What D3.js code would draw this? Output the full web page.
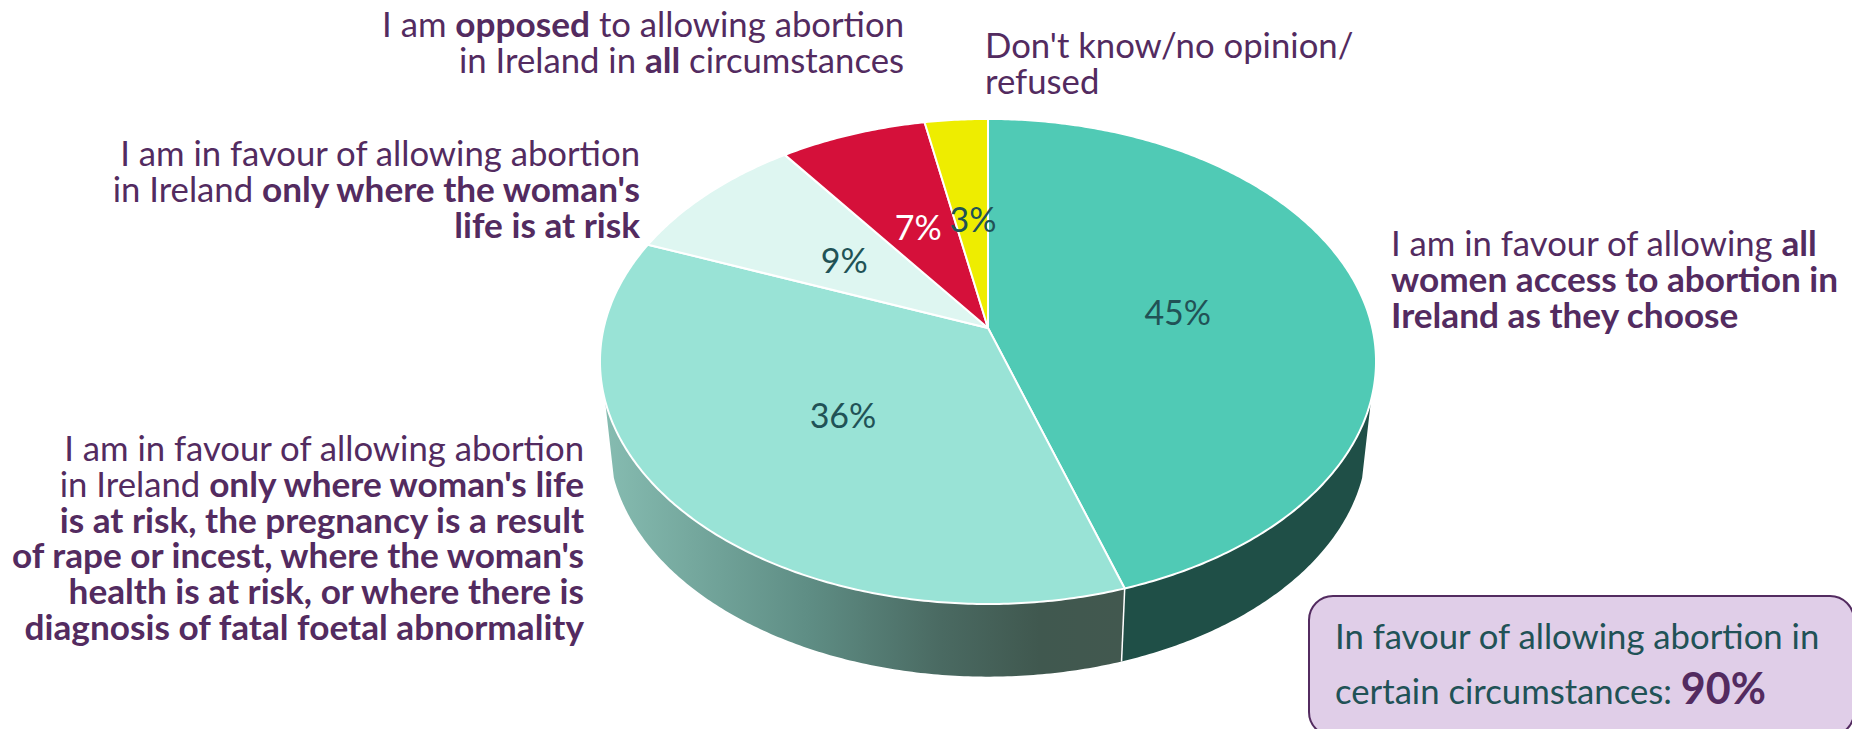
<!DOCTYPE html>
<html>
<head>
<meta charset="utf-8">
<script src="https://cdn.jsdelivr.net/npm/d3@7"></script>
<style>
  html, body { margin: 0; padding: 0; background: #fff; overflow: hidden; }
  text { font-family: Lato, "Open Sans", sans-serif; }
</style>
</head>
<body>
<svg id="chart" width="1852" height="729"></svg>
<script>
// answers, clockwise from 12 o'clock. ** marks the bold part of a label
var categories = ["All women", "Certain circumstances", "Life at risk", "Opposed", "Don't know"];
var values = [45, 36, 9, 7, 3];
var pctLabels = ["45%", "36%", "9%", "7%", "3%"];
var labelLines = [
  ["I am in favour of allowing **all**", "**women access to abortion in**", "**Ireland as they choose**"],
  ["I am in favour of allowing abortion", "in Ireland **only where woman's life**", "**is at risk, the pregnancy is a result**",
   "**of rape or incest, where the woman's**", "**health is at risk, or where there is**", "**diagnosis of fatal foetal abnormality**"],
  ["I am in favour of allowing abortion", "in Ireland **only where the woman's**", "**life is at risk**"],
  ["I am **opposed** to allowing abortion", "in Ireland in **all** circumstances"],
  ["Don't know/no opinion/", "refused"]
];
var calloutLines = ["In favour of allowing abortion in", "certain circumstances: "];
var calloutValue = "90%";

var topColors = ["#50cab5", "#99e3d6", "#def6f1", "#d5103a", "#eeed00"];
var pctColors = ["#215256", "#215256", "#215256", "#ffffff", "#215256"];
var purple = "#532b60", teal = "#215256";

// where each label block sits: x, anchor, baselines
var labelPos = [
  {x: 1391, y: [255.5, 291.5, 327.5], anchor: "start"},
  {x: 584, y: [460.5, 496.5, 532.5, 567.5, 603.5, 639.5], anchor: "end"},
  {x: 640, y: [165.5, 201.5, 237.5], anchor: "end"},
  {x: 904, y: [36.5, 72.5], anchor: "end"},
  {x: 985, y: [57.5, 93.5], anchor: "start"}
];

var svg = d3.select("#chart");

// tilted disc: perspective projection of the unit circle
var cx = 988, cy = 328, k = 0.138, A = 237.9, B = 384.3;
var depthScale = 0.977, depthY = 79;
function project(a, r, bottom) {
  var u = r * Math.sin(a), v = -r * Math.cos(a);
  var w = 1 - k * v;
  var X = B * u / w, Y = A * v / w;
  if (bottom) return [cx + depthScale * X, cy + depthY + depthScale * Y];
  return [cx + X, cy + Y];
}
function arcAngles(a0, a1) {
  var n = Math.max(2, Math.ceil((a1 - a0) / 0.01));
  return d3.range(n + 1).map(function(i) { return a0 + (a1 - a0) * i / n; });
}

var line = d3.line();
var arcs = d3.pie().sort(null).value(function(d) { return d; })(values);

var defs = svg.append("defs");
var grad = defs.append("linearGradient").attr("id", "wallGrad")
  .attr("gradientUnits", "userSpaceOnUse")
  .attr("x1", 604).attr("x2", 1122).attr("y1", 0).attr("y2", 0);
var gradStops = [[0, "#86bcb1"], [0.39, "#5f8e85"], [0.65, "#4a6a62"], [0.84, "#40584f"], [1, "#42584f"]];
gradStops.forEach(function(s) {
  grad.append("stop").attr("offset", s[0]).attr("stop-color", s[1]);
});

// side wall, only the front part shows
var wallFrom = 107 * Math.PI / 180, wallTo = 253 * Math.PI / 180;
var wallFill = ["#1f4f47", "url(#wallGrad)"];
arcs.slice(0, 2).forEach(function(d, i) {
  var a0 = Math.max(d.startAngle, wallFrom), a1 = Math.min(d.endAngle, wallTo);
  var angles = arcAngles(a0, a1);
  var pts = angles.map(function(a) { return project(a, 1, false); })
    .concat(angles.slice().reverse().map(function(a) { return project(a, 1, true); }));
  svg.append("path").attr("d", line(pts) + "Z").attr("fill", wallFill[i]);
});
var seam = arcs[0].endAngle;
svg.append("path")
  .attr("d", line([project(seam, 1, false), project(seam, 1, true)]))
  .attr("stroke", "#fff").attr("stroke-width", 1.5).attr("fill", "none");

// top face
svg.append("g").selectAll("path").data(arcs).enter().append("path")
  .attr("d", function(d) {
    var pts = arcAngles(d.startAngle, d.endAngle).map(function(a) { return project(a, 1, false); });
    return line([[cx, cy]].concat(pts)) + "Z";
  })
  .attr("fill", function(d, i) { return topColors[i]; })
  .attr("stroke", "#fff").attr("stroke-width", 2).attr("stroke-linejoin", "round");

// percentages
svg.append("g").selectAll("text").data(arcs).enter().append("text")
  .attr("x", function(d) { return project((d.startAngle + d.endAngle) / 2, 0.5, false)[0] + 2; })
  .attr("y", function(d) { return project((d.startAngle + d.endAngle) / 2, 0.5, false)[1] + 15; })
  .attr("text-anchor", "middle")
  .attr("font-size", 34)
  .attr("fill", function(d, i) { return pctColors[i]; })
  .text(function(d, i) { return pctLabels[i]; });

// labels with bold runs
function addRuns(t, str) {
  str.split("**").forEach(function(run, i) {
    if (run) t.append("tspan")
      .attr("font-weight", i % 2 ? 700 : 400)
      .attr("font-size", i % 2 ? 35.2 : 34.7)
      .text(run);
  });
}
labelLines.forEach(function(lines, i) {
  var pos = labelPos[i];
  lines.forEach(function(l, j) {
    var t = svg.append("text")
      .attr("x", pos.x).attr("y", pos.y[j])
      .attr("text-anchor", pos.anchor)
      .attr("fill", purple);
    addRuns(t, l);
  });
});

// callout box
svg.append("rect")
  .attr("x", 1309).attr("y", 596).attr("width", 545).attr("height", 140)
  .attr("rx", 24).attr("ry", 24)
  .attr("fill", "#e0cee8").attr("stroke", purple).attr("stroke-width", 2);
svg.append("text").attr("x", 1335).attr("y", 649)
  .attr("font-size", 34.7).attr("fill", teal).text(calloutLines[0]);
var t2 = svg.append("text").attr("x", 1335).attr("y", 704)
  .attr("font-size", 34.7).attr("fill", teal).text(calloutLines[1]);
t2.append("tspan").attr("font-size", 43).attr("font-weight", 700).attr("fill", purple).text(calloutValue);
</script>
</body>
</html>
